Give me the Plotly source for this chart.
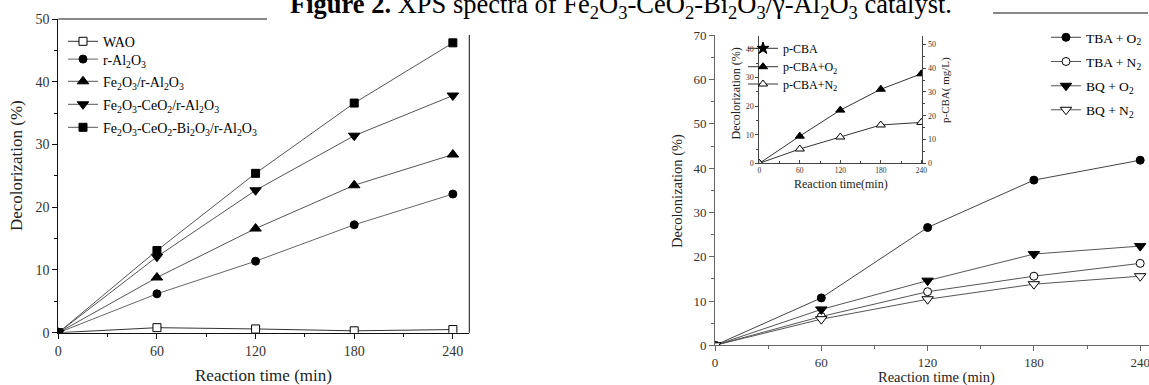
import plotly.graph_objects as go

W, H = 1149, 385
FONT = "Liberation Serif"

def fx(p):
    return p / W

def fy(p):
    return 1 - p / H

# ---------------- data ----------------
time = [0, 60, 120, 180, 240]

# left panel
left_names = ["WAO", "r-Al<sub>2</sub>O<sub>3</sub>", "Fe<sub>2</sub>O<sub>3</sub>/r-Al<sub>2</sub>O<sub>3</sub>",
              "Fe<sub>2</sub>O<sub>3</sub>-CeO<sub>2</sub>/r-Al<sub>2</sub>O<sub>3</sub>",
              "Fe<sub>2</sub>O<sub>3</sub>-CeO<sub>2</sub>-Bi<sub>2</sub>O<sub>3</sub>/r-Al<sub>2</sub>O<sub>3</sub>"]
wao = [0, 0.8, 0.6, 0.3, 0.5]
r_al2o3 = [0, 6.2, 11.4, 17.2, 22.1]
fe_al = [0, 8.8, 16.6, 23.5, 28.4]
fe_ce_al = [0, 12.1, 22.7, 31.4, 37.8]
fe_ce_bi_al = [0, 13.1, 25.4, 36.6, 46.2]

# right panel
right_names = ["TBA + O<sub>2</sub>", "TBA + N<sub>2</sub>", "BQ + O<sub>2</sub>", "BQ + N<sub>2</sub>"]
tba_o2 = [0, 10.7, 26.6, 37.3, 41.8]
tba_n2 = [0, 6.5, 12.1, 15.6, 18.5]
bq_o2 = [0, 8.1, 14.6, 20.6, 22.4]
bq_n2 = [0, 5.9, 10.4, 13.8, 15.6]

# inset
inset_names = ["p-CBA", "p-CBA+O<sub>2</sub>", "p-CBA+N<sub>2</sub>"]
pcba = [None]
pcba_o2 = [0, 9.5, 18.6, 25.9, 31.3]
pcba_n2 = [0, 5.0, 9.2, 13.4, 14.3]

fig = go.Figure()

def add(x, y, name, sym, fill, size, lcolor, xa, ya, legend):
    fig.add_trace(go.Scatter(
        x=x, y=y, name=name, mode="lines+markers", xaxis=xa, yaxis=ya,
        line=dict(color=lcolor, width=1),
        marker=dict(symbol=sym, size=size, color=fill, line=dict(color="black", width=1)),
        legend=legend, showlegend=True))

# left panel traces
add(time, wao, left_names[0], "square", "white", 8, "#333", "x", "y", "legend")
add(time, r_al2o3, left_names[1], "circle", "black", 8, "#666", "x", "y", "legend2")
add(time, fe_al, left_names[2], "triangle-up", "black", 10, "#555", "x", "y", "legend3")
add(time, fe_ce_al, left_names[3], "triangle-down", "black", 10, "#555", "x", "y", "legend4")
add(time, fe_ce_bi_al, left_names[4], "square", "black", 8, "#555", "x", "y", "legend5")

# right panel traces
add(time, tba_o2, right_names[0], "circle", "black", 8, "#444", "x2", "y2", "legend6")
add(time, tba_n2, right_names[1], "circle", "white", 8, "#555", "x2", "y2", "legend7")
add(time, bq_o2, right_names[2], "triangle-down", "black", 10, "#555", "x2", "y2", "legend8")
add(time, bq_n2, right_names[3], "triangle-down", "white", 10, "#555", "x2", "y2", "legend9")

# inset traces
add([None], pcba, inset_names[0], "star", "black", 9, "#333", "x3", "y4", "legend10")
add(time, pcba_o2, inset_names[1], "triangle-up", "black", 8, "#333", "x3", "y3", "legend11")
add(time, pcba_n2, inset_names[2], "triangle-up", "white", 8, "#333", "x3", "y3", "legend12")

def axis(domain, rng, dtick, mdtick, color, fsize, tlen, mlen, anchor, side=None, overlaying=None, ticks="outside"):
    d = dict(domain=domain, range=rng, tickmode="linear", tick0=0, dtick=dtick,
             ticks=ticks, ticklen=tlen, tickwidth=1, tickcolor=color,
             showline=True, linecolor=color, linewidth=1, showgrid=False, zeroline=False,
             tickfont=dict(family=FONT, size=fsize, color="#333"), anchor=anchor,
             ticklabeloverflow="allow",
             minor=dict(ticks=ticks, ticklen=mlen, tickcolor=color, dtick=mdtick, tick0=0, showgrid=False),
             fixedrange=True)
    if side:
        d["side"] = side
    if overlaying:
        d["overlaying"] = overlaying
    return d

layout = dict(
    width=W, height=H, margin=dict(l=0, r=0, t=0, b=0, autoexpand=False),
    paper_bgcolor="white", plot_bgcolor="rgba(0,0,0,0)",
    xaxis=axis([fx(58.3), fx(469.3)], [0, 250], 60, 30, "#111", 14, 5, 3, "y"),
    yaxis=axis([fy(332.7), fy(19)], [0, 50], 10, 5, "#111", 14, 5, 3, "x"),
    xaxis2=axis([fx(715), 1.0], [0, 244.97], 60, 30, "#666", 13, 5, 3, "y2"),
    yaxis2=axis([fy(345.3), fy(35.3)], [0, 70], 10, 5, "#666", 13, 5, 3, "x2"),
    xaxis3=axis([fx(759.3), fx(922.3)], [0, 241.5], 60, 30, "#444", 7.5, 3, 2, "y3", ticks="inside"),
    yaxis3=axis([fy(163.3), fy(35.5)], [0, 44.7], 10, 5, "#444", 8, 3, 2, "x3"),
    yaxis4=axis([fy(163.3), fy(35.5)], [0, 53.7], 10, 5, "#444", 8, 3, 2, "x3", side="right", overlaying="y3"),
)

# legends: one per entry for precise placement
leg_specs = {
    "legend": (63, 41.7, 14), "legend2": (63, 59.5, 14), "legend3": (63, 81.7, 14),
    "legend4": (63, 104.7, 14), "legend5": (63, 127.7, 14),
    "legend6": (1046, 37.5, 13.5), "legend7": (1046, 61.7, 13.5), "legend8": (1046, 86, 13.5),
    "legend9": (1046, 110, 13.5),
    "legend10": (743, 48.3, 12), "legend11": (743, 66.7, 12), "legend12": (743, 84, 12),
}
for k, (lx, ly, fs) in leg_specs.items():
    layout[k] = dict(x=fx(lx), y=fy(ly), xanchor="left", yanchor="middle",
                     bgcolor="rgba(0,0,0,0)", borderwidth=0,
                     font=dict(family=FONT, size=fs, color="black"), itemclick=False)

fig.update_layout(**layout)

def title(text, px, py, size, angle=0):
    fig.add_annotation(text=text, x=fx(px), y=fy(py), xref="paper", yref="paper",
                       xanchor="center", yanchor="middle", showarrow=False, textangle=angle,
                       font=dict(family=FONT, size=size, color="#222"))

title("Decolorization (%)", 17, 166, 17, -90)
title("Reaction time (min)", 263.5, 375, 17)
title("Decolonization (%)", 677, 191, 14.5, -90)
title("Reaction time (min)", 936, 377.5, 14.5)
title("Decolorization (%)", 735, 93.5, 12, -90)
title("p-CBA( mg/L)", 946, 90, 11, -90)
title("Reaction time(min)", 841, 184, 12)

# caption (partially cut at the top of the image)
fig.add_annotation(text="<b>Figure 2.</b> XPS spectra of Fe<sub>2</sub>O<sub>3</sub>-CeO<sub>2</sub>-Bi<sub>2</sub>O<sub>3</sub>/γ-Al<sub>2</sub>O<sub>3</sub> catalyst.",
                   x=fx(288), y=fy(6), xref="paper", yref="paper", xanchor="left", yanchor="middle",
                   showarrow=False, font=dict(family=FONT, size=26.5, color="black"))

# visible frame pieces
fig.add_shape(type="line", xref="paper", yref="paper", x0=fx(58.3), x1=fx(267), y0=fy(19), y1=fy(19),
              line=dict(color="#111", width=1))
fig.add_shape(type="line", xref="paper", yref="paper", x0=fx(469.3), x1=fx(469.3), y0=fy(35), y1=fy(332.7),
              line=dict(color="#111", width=1))
fig.add_shape(type="line", xref="paper", yref="paper", x0=fx(993), x1=fx(1148), y0=fy(13), y1=fy(13),
              line=dict(color="#111", width=1))

fig.write_html("out.html", config={"displayModeBar": False},
               post_script="document.body.style.margin='0';document.body.style.overflow='hidden';")
